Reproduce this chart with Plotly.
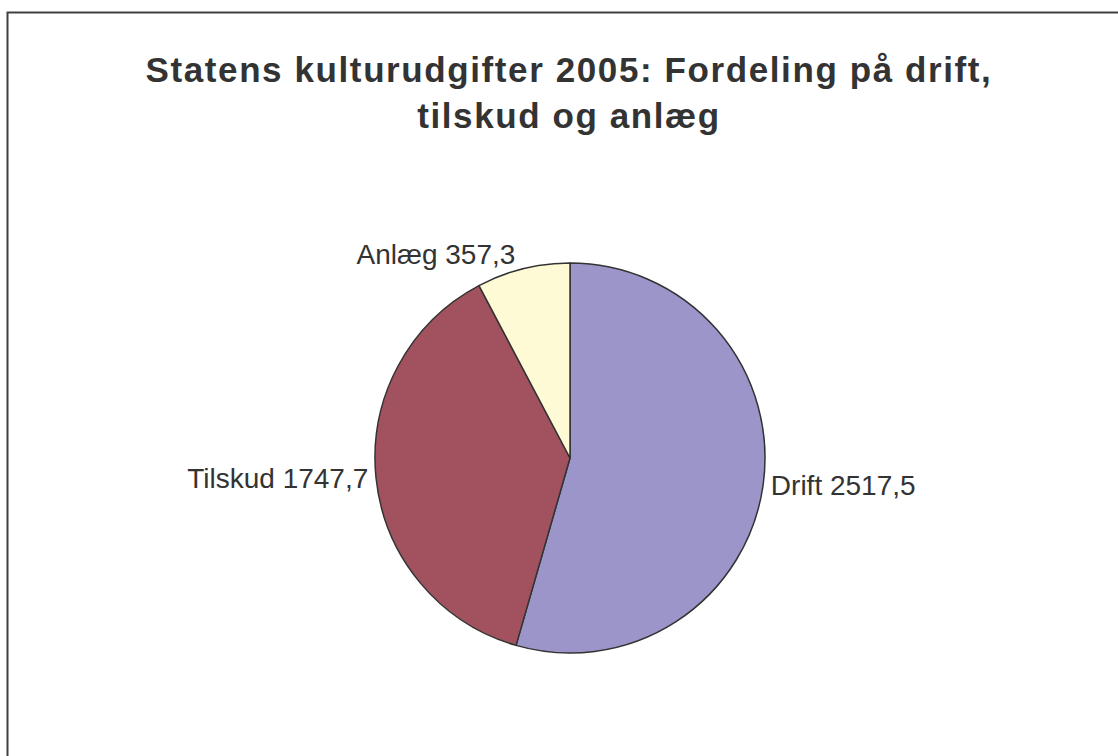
import plotly.graph_objects as go

categories = ["Drift", "Tilskud", "Anlæg"]
values = [2517.5, 1747.7, 357.3]
colors = ["#9B95C9", "#A2525F", "#FFFAD6"]
title_text = "Statens kulturudgifter 2005: Fordeling på drift,<br>tilskud og anlæg"

W, H = 1118, 756
cx, cy, r = 570, 458, 195

fig = go.Figure(go.Pie(
    labels=categories,
    values=values,
    sort=False,
    direction="clockwise",
    rotation=0,
    marker=dict(colors=colors, line=dict(color="#333333", width=1.5)),
    texttemplate="%{label} %{value:.1f}",
    textposition="outside",
    outsidetextfont=dict(family="Liberation Sans, Arial", size=28, color="#333333"),
    showlegend=False,
    hoverinfo="label+value",
    domain=dict(x=[(cx - r) / W, (cx + r) / W], y=[(H - cy - r) / H, (H - cy + r) / H]),
))

fig.update_layout(
    width=W, height=H,
    margin=dict(l=0, r=0, t=0, b=0),
    paper_bgcolor="white",
    separators=",.",
    title=dict(text=title_text, x=569 / W, xanchor="center", y=1 - 82 / H, yanchor="middle",
               font=dict(family="Liberation Sans, Arial", size=35, color="#333333", weight="bold")),
    shapes=[dict(type="rect", xref="paper", yref="paper",
                 x0=7.5 / W, x1=1.02, y0=-0.02, y1=1 - 12.5 / H,
                 line=dict(color="#404040", width=2), fillcolor="rgba(0,0,0,0)")],
)

post = (
    "document.body.style.margin='0px';"
    "document.querySelectorAll('.gtitle').forEach(function(t){t.style.letterSpacing='1.6px';});"
)
fig.write_html("out.html", config={"displayModeBar": False}, post_script=post)
